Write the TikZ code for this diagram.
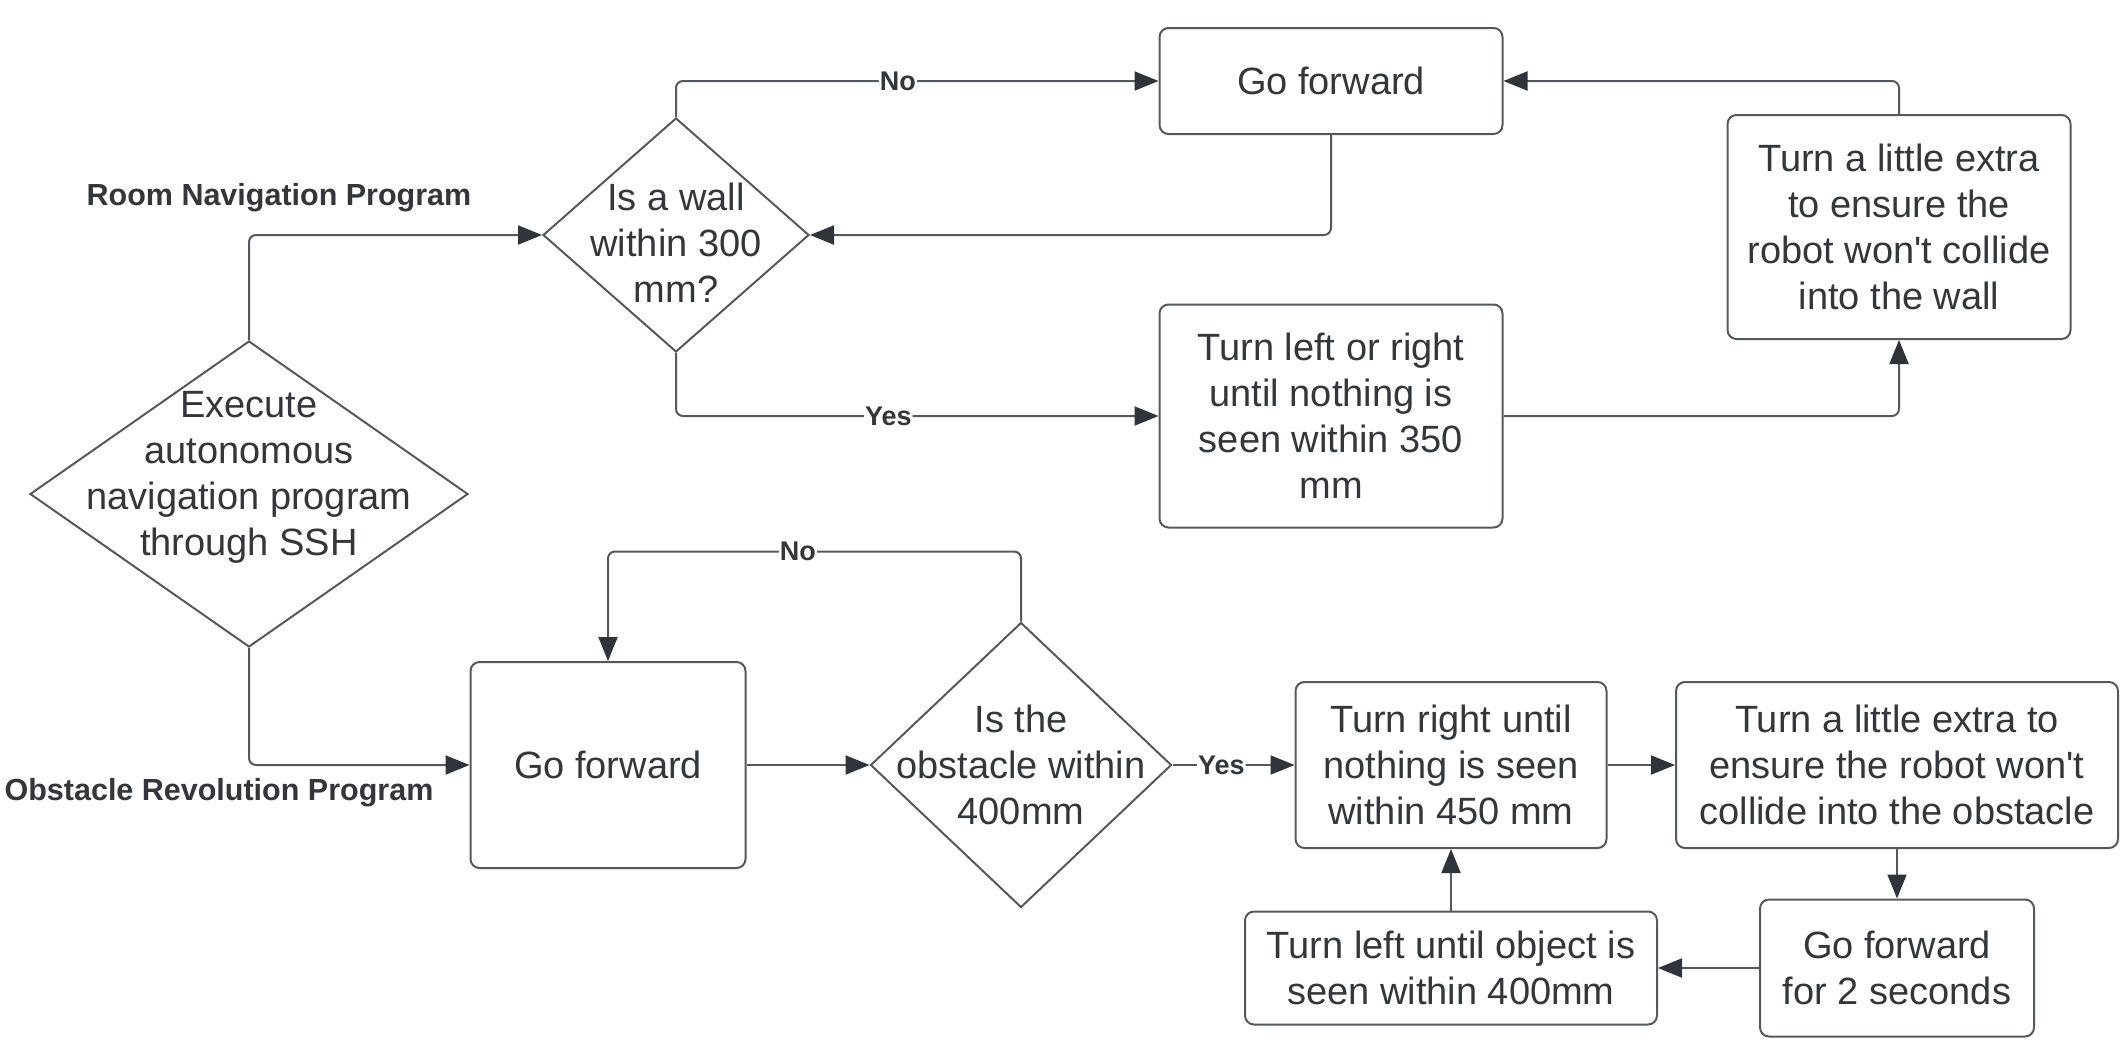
\documentclass[tikz,border=0pt]{standalone}
\usepackage{fontspec}
\setmainfont{Liberation Sans}
\usetikzlibrary{shapes.geometric, arrows.meta, positioning}
\definecolor{edgegray}{HTML}{55595E}
\definecolor{tipgray}{HTML}{2E343A}
\definecolor{textgray}{HTML}{33373B}

\tikzset{
  procbox/.style={draw=edgegray, line width=2pt, rounded corners=9pt, align=center,
    text=textgray, inner sep=0pt, font=\fontsize{38}{46}\selectfont},
  decision/.style={draw=edgegray, line width=2pt, diamond, inner sep=0pt},
  dtext/.style={align=center, text=textgray, font=\fontsize{38}{46}\selectfont},
  flow/.style={draw=edgegray, line width=2pt, rounded corners=7pt,
    -{Triangle[length=24pt, width=19pt, color=tipgray]}},
  lbl/.style={fill=white, inner sep=1pt, text=textgray, font=\bfseries\fontsize{27}{30}\selectfont},
  progtitle/.style={text=textgray, font=\bfseries\fontsize{30.5}{33}\selectfont}
}

\begin{document}
\begin{tikzpicture}[x=1pt, y=-1pt]
\useasboundingbox (0,0) rectangle (2120,1039);
%program titles
\node[progtitle] (roomtitle) at (279,198) {Room Navigation Program};
\node[progtitle] (obsttitle) at (219,793) {Obstacle Revolution Program};
%start
\node[decision, minimum width=438pt, minimum height=306pt,
  label={[dtext, yshift=17pt]center:Execute\\autonomous\\navigation program\\through SSH}] (start) at (249,494) {};
%room navigation
\node[decision, minimum width=266pt, minimum height=234pt,
  label={[dtext, yshift=-8pt]center:Is a wall\\within 300\\mm?}] (wall) at (676,235) {};
\node[procbox, minimum width=343pt, minimum height=106pt] (fwdone) at (1331,81) {Go forward};
\node[procbox, minimum width=343pt, minimum height=223pt] (turnlr) at (1331,416) {Turn left or right\\until nothing is\\seen within 350\\mm};
\node[procbox, minimum width=343pt, minimum height=224pt] (extraone) at (1899,227) {Turn a little extra\\to ensure the\\robot won\textquotesingle t collide\\into the wall};
%obstacle revolution
\node[procbox, minimum width=275pt, minimum height=206pt] (fwdtwo) at (608,765) {Go forward};
\node[decision, minimum width=301pt, minimum height=285pt,
  label={[dtext]center:Is the\\obstacle within\\400mm}] (obst) at (1021,765) {};
\node[procbox, minimum width=311pt, minimum height=166pt] (turnr) at (1451,765) {Turn right until\\nothing is seen\\within 450 mm};
\node[procbox, minimum width=442pt, minimum height=166pt] (extratwo) at (1897,765) {Turn a little extra to\\ensure the robot won\textquotesingle t\\collide into the obstacle};
\node[procbox, minimum width=274pt, minimum height=137pt] (fwdthree) at (1897,968) {Go forward\\for 2 seconds};
\node[procbox, minimum width=412pt, minimum height=113pt] (turnl) at (1451,968) {Turn left until object is\\seen within 400mm};
%connectors, top
\draw[flow] (start.north) |- (wall.west);
\draw[flow] (wall.north) |- node[lbl, pos=0.73] {No} (fwdone.west);
\draw[flow] (fwdone.south) |- (wall.east);
\draw[flow] (wall.south) |- node[lbl, pos=0.72] {Yes} (turnlr.west);
\draw[flow] (turnlr.east) -| (extraone.south);
\draw[flow] (extraone.north) |- (fwdone.east);
%connectors, bottom
\draw[flow] (start.south) |- (fwdtwo.west);
\draw[flow] (fwdtwo.east) -- (obst.west);
\draw[flow] (obst.north) -- ++(0,-70) -| node[lbl, pos=0.27] {No} (fwdtwo.north);
\draw[flow] (obst.east) -- node[lbl, pos=0.4] {Yes} (turnr.west);
\draw[flow] (turnr.east) -- (extratwo.west);
\draw[flow] (extratwo.south) -- (fwdthree.north);
\draw[flow] (fwdthree.west) -- (turnl.east);
\draw[flow] (turnl.north) -- (turnr.south);
\end{tikzpicture}
\end{document}
